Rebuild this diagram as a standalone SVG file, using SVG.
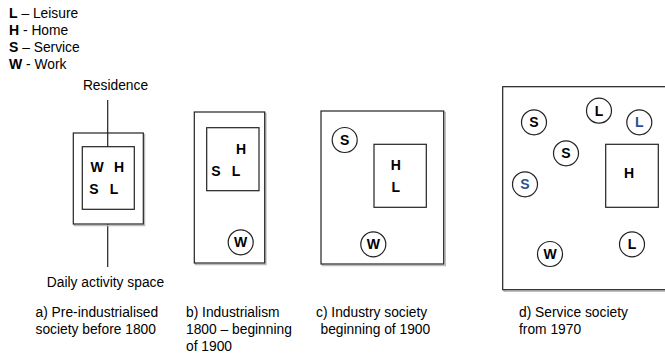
<svg xmlns="http://www.w3.org/2000/svg" width="665" height="356" viewBox="0 0 665 356">
<style>
text{font-family:"Liberation Sans",Arial,sans-serif;font-size:13.8px;fill:#000}
.b{font-weight:bold;font-size:14px}
.c{text-anchor:middle}
.box{fill:#fff;stroke:#222;stroke-width:1.2}
.sh{fill:none;stroke:#bbb;stroke-width:1.5}
.cir{fill:#fff;stroke:#222;stroke-width:1.2}
.blue{fill:#2c5090}
.ln{stroke:#222;stroke-width:1.2}
</style>
<g id="legend">
<text x="9" y="18"><tspan class="b">L</tspan> – Leisure</text>
<text x="9" y="35"><tspan class="b">H</tspan> - Home</text>
<text x="9" y="52"><tspan class="b">S</tspan> – Service</text>
<text x="9" y="69"><tspan class="b">W</tspan> - Work</text>
</g>
<g id="connectors">
<line class="ln" x1="107.7" y1="100" x2="107.7" y2="147"/>
<line class="ln" x1="107.7" y1="224" x2="107.7" y2="267"/>
</g>
<g id="a">
<rect class="sh" x="74.5" y="134.5" width="70" height="91"/>
<rect class="box" x="73.3" y="133" width="70" height="91"/>
<rect class="box" x="82.3" y="146.7" width="52" height="62.6"/>
<line class="ln" x1="107.7" y1="133" x2="107.7" y2="146.7"/>
<text class="b c" x="97" y="172">W</text>
<text class="b c" x="119" y="172">H</text>
<text class="b c" x="94" y="194">S</text>
<text class="b c" x="114" y="194">L</text>
<text class="c" x="115.5" y="90">Residence</text>
<text class="c" x="105.5" y="287">Daily activity space</text>
<text x="35.5" y="317">a) Pre-industrialised</text>
<text x="35.5" y="334">society before 1800</text>
</g>
<g id="b">
<rect class="sh" x="195.5" y="113.5" width="70.4" height="151"/>
<rect class="box" x="194.3" y="112" width="70.4" height="151"/>
<rect class="box" x="206.7" y="127.7" width="52.3" height="63"/>
<text class="b c" x="241" y="154">H</text>
<text class="b c" x="216" y="176">S</text>
<text class="b c" x="236" y="176">L</text>
<circle class="cir" cx="240.7" cy="242.3" r="12.5"/>
<text class="b c" x="240.7" y="247.3">W</text>
<text x="186" y="317">b) Industrialism</text>
<text x="186" y="334">1800 – beginning</text>
<text x="186" y="351">of 1900</text>
</g>
<g id="c">
<rect class="sh" x="322.5" y="112.5" width="122.7" height="153"/>
<rect class="box" x="321" y="111" width="122.7" height="153"/>
<rect class="box" x="374" y="144.3" width="52.3" height="63"/>
<text class="b c" x="395.7" y="170">H</text>
<text class="b c" x="395.7" y="192">L</text>
<circle class="cir" cx="344.7" cy="140" r="12.5"/>
<text class="b c" x="344.7" y="145">S</text>
<circle class="cir" cx="373.3" cy="244.3" r="12.5"/>
<text class="b c" x="373.3" y="249.3">W</text>
<text x="316" y="317">c) Industry society</text>
<text x="320.5" y="334">beginning of 1900</text>
</g>
<g id="d">
<rect class="sh" x="504.2" y="88.2" width="170" height="203"/>
<rect class="box" x="502.7" y="86.7" width="170" height="203"/>
<rect class="box" x="605.7" y="144.3" width="52.6" height="63"/>
<text class="b c" x="629" y="178">H</text>
<circle class="cir" cx="534" cy="122.3" r="12.5"/>
<text class="b c" x="534" y="127.3">S</text>
<circle class="cir" cx="599" cy="110.7" r="12.5"/>
<text class="b c" x="599" y="115.7">L</text>
<circle class="cir" cx="639.3" cy="122.3" r="12.5"/>
<text class="b c blue" x="639.3" y="127.3">L</text>
<circle class="cir" cx="566" cy="153.3" r="12.5"/>
<text class="b c" x="566" y="158.3">S</text>
<circle class="cir" cx="525" cy="184.3" r="12.5"/>
<text class="b c blue" x="525" y="189.3">S</text>
<circle class="cir" cx="550" cy="254" r="12.5"/>
<text class="b c" x="550" y="259">W</text>
<circle class="cir" cx="632" cy="244.3" r="12.5"/>
<text class="b c" x="632" y="249.3">L</text>
<text x="519" y="317">d) Service society</text>
<text x="519" y="334">from 1970</text>
</g>
</svg>
